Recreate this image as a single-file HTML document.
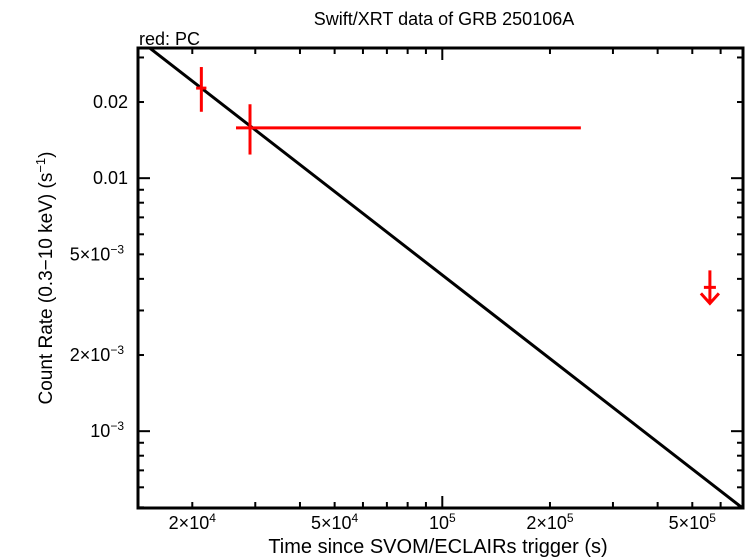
<!DOCTYPE html>
<html><head><meta charset="utf-8"><style>
body{margin:0;background:#fff;}
svg{display:block;font-family:"Liberation Sans",sans-serif;}
</style></head><body>
<svg id="chart" width="746" height="558">
<defs><clipPath id="pc"><rect x="138" y="48" width="605" height="460"/></clipPath></defs>
<text x="444" y="25" font-size="18" text-anchor="middle">Swift/XRT data of GRB 250106A</text>
<text x="139" y="45" font-size="18">red: PC</text>
<g id="axes"></g>
<g id="marks" clip-path="url(#pc)"></g>
<text x="438" y="553" font-size="20" text-anchor="middle">Time since SVOM/ECLAIRs trigger (s)</text>
<text transform="translate(52,278) rotate(-90)" font-size="19" text-anchor="middle">Count Rate (0.3−10 keV) (s<tspan dy="-7" font-size="13">−1</tspan><tspan dy="7">)</tspan></text>
</svg>
<script>
const xMajor=[2e4,5e4,1e5,2e5,5e5];
const xMajorLabels=[["2×10","4"],["5×10","4"],["10","5"],["2×10","5"],["5×10","5"]];
const yMajor=[0.02,0.01,5e-3,2e-3,1e-3];
const yMajorLabels=[["0.02",""],["0.01",""],["5×10","−3"],["2×10","−3"],["10","−3"]];
const ptT=[21200,29000];
const ptTlo=[20500,26500];
const ptThi=[21900,244000];
const ptR=[0.0227,0.0158];
const ptRlo=[0.0183,0.0124];
const ptRhi=[0.0275,0.0196];
const ulT=[560000];
const ulR=[0.0032];
const fitT=[1.5e4,6.93e5];
const fitNorm=0.0227, fitT0=21200, fitIndex=1.097;

const L=138,R=743,T=48,B=508;
const lx0=Math.log10(1.41e4),lx1=Math.log10(6.93e5),ly0=Math.log10(4.97e-4),ly1=Math.log10(0.0327);
const X=t=>L+(Math.log10(t)-lx0)/(lx1-lx0)*(R-L);
const Y=r=>B-(Math.log10(r)-ly0)/(ly1-ly0)*(B-T);
const NS="http://www.w3.org/2000/svg";
function mk(tag,at,parent){const e=document.createElementNS(NS,tag);for(const k in at)e.setAttribute(k,at[k]);parent.appendChild(e);return e;}
const ax=document.getElementById('axes'),mg=document.getElementById('marks');
const frame=mk('rect',{x:L,y:T,width:R-L,height:B-T,fill:'none',stroke:'#000','stroke-width':3},ax);


for(let d=1e4;d<1e6;d*=10)for(let m=1;m<10;m++){const v=d*m;const x=X(v);if(x<L||x>R)continue;
 const len=(m===1)?12:6;
 const t1=mk('line',{x1:x,y1:B,x2:x,y2:B-len,stroke:'#000','stroke-width':2},ax);
 
 
 const t2=mk('line',{x1:x,y1:T,x2:x,y2:T+len,stroke:'#000','stroke-width':2},ax);
 
 }
xMajor.forEach((v,i)=>{const t=mk('text',{x:X(v),y:529,'font-size':18,'text-anchor':'middle'},ax);
 t.textContent=xMajorLabels[i][0];const s=mk('tspan',{dy:-7,'font-size':12},t);s.textContent=xMajorLabels[i][1];
 
 });
for(let d=1e-4;d<0.1;d*=10)for(let m=1;m<10;m++){const v=d*m;const y=Y(v);if(y<T||y>B)continue;
 const len=(m===1)?12:6;
 const t1=mk('line',{x1:L,y1:y,x2:L+len,y2:y,stroke:'#000','stroke-width':2},ax);
 
 
 const t2=mk('line',{x1:R,y1:y,x2:R-len,y2:y,stroke:'#000','stroke-width':2},ax);
 
 }
yMajor.forEach((v,i)=>{const t=mk('text',{x:i<2?128:124,y:Y(v)+6,'font-size':18,'text-anchor':'end'},ax);
 t.textContent=yMajorLabels[i][0];
 if(yMajorLabels[i][1]){const s=mk('tspan',{dy:-7,'font-size':12},t);s.textContent=yMajorLabels[i][1];}
 
 });
const fr=t=>fitNorm*Math.pow(t/fitT0,-fitIndex);
const fl=mk('line',{x1:X(fitT[0]),y1:Y(fr(fitT[0])),x2:X(fitT[1]),y2:Y(fr(fitT[1])),stroke:'#000','stroke-width':3},mg);


ptT.forEach((t,i)=>{
 const h=mk('line',{x1:X(ptTlo[i]),y1:Y(ptR[i]),x2:X(ptThi[i]),y2:Y(ptR[i]),stroke:'#f00','stroke-width':3},mg);
 
 
 const v=mk('line',{x1:X(t),y1:Y(ptRlo[i]),x2:X(t),y2:Y(ptRhi[i]),stroke:'#f00','stroke-width':3},mg);
 
 
});
ulT.forEach((t,i)=>{const x=X(t),y=Y(ulR[i]);
 const g=mk('path',{d:`M${x},${y-33} L${x},${y} M${x-9},${y-10} L${x},${y} L${x+9},${y-10} M${x-6},${y-16} L${x+6},${y-16}`,stroke:'#f00','stroke-width':3,fill:'none'},mg);
 
 });
</script>
</body></html>
